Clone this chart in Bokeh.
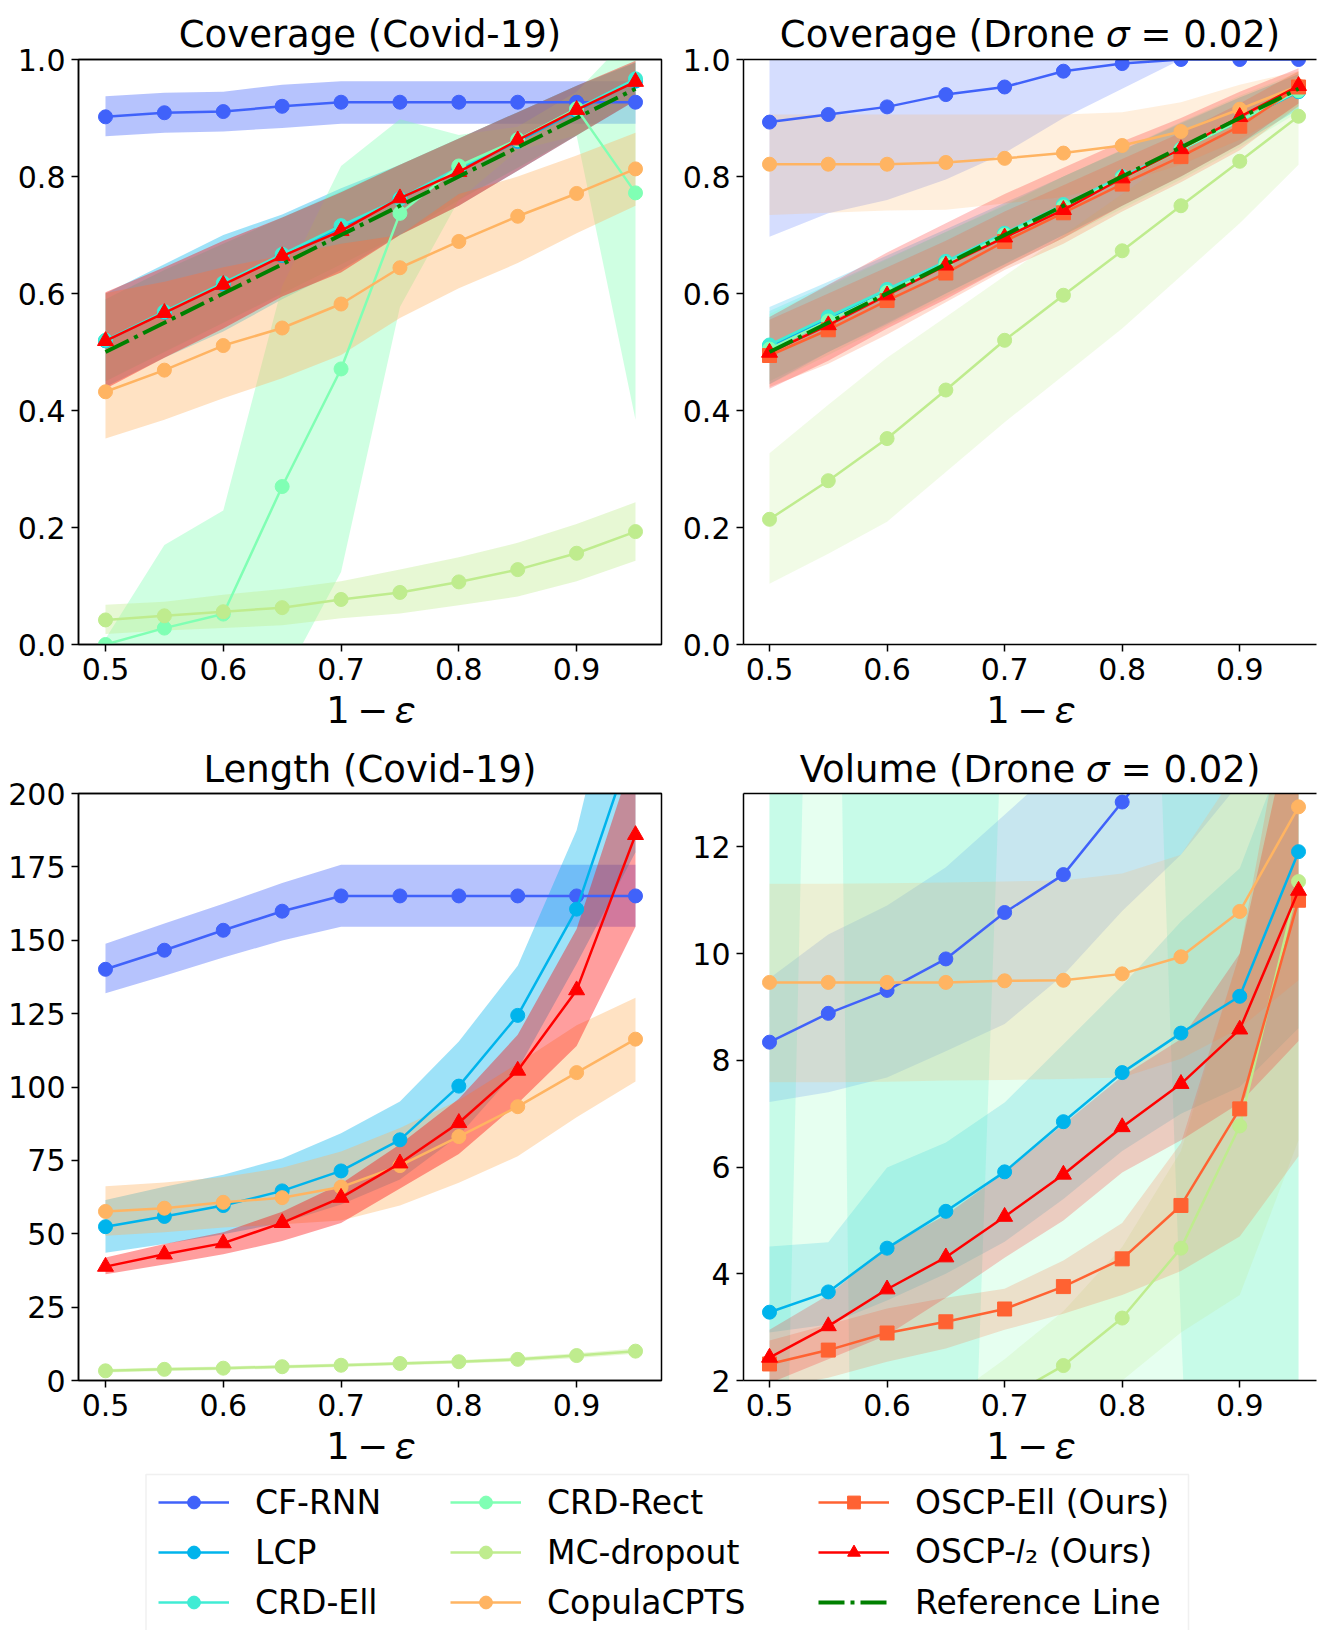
from bokeh.plotting import figure
from bokeh.models import (Range1d, FixedTicker, LinearAxis, NumeralTickFormatter,
                          Legend, LegendItem, BoxAnnotation, ColumnDataSource)
from bokeh.layouts import column, row
from bokeh.embed import file_html
from bokeh.resources import INLINE

# ---------------- data ----------------
EPS = [0.5, 0.55, 0.6, 0.65, 0.7, 0.75, 0.8, 0.85, 0.9, 0.95]
X_TICKS = [0.5, 0.6, 0.7, 0.8, 0.9]
COV_TICKS = [0.0, 0.2, 0.4, 0.6, 0.8, 1.0]
LEN_TICKS = [0, 25, 50, 75, 100, 125, 150, 175, 200]
VOL_TICKS = [2, 4, 6, 8, 10, 12]

METHODS = ["CF-RNN", "LCP", "CRD-Ell", "CRD-Rect", "MC-dropout", "CopulaCPTS",
           "OSCP-Ell (Ours)", "OSCP-\U0001D459\u2082 (Ours)"]
REF_LABEL = "Reference Line"
COLORS = ["#4062fa", "#00b4ec", "#40ecd4", "#80ffb4", "#bfec8e", "#ffb462",
          "#ff6232", "#ff0000"]
MARKERS = ["circle", "circle", "circle", "circle", "circle", "circle", "square", "triangle"]

# Coverage (Covid-19)
cc_cfrnn = [0.902, 0.909, 0.911, 0.920, 0.927, 0.927, 0.927, 0.927, 0.927, 0.927]
cc_cfrnn_lo = [0.869, 0.875, 0.877, 0.883, 0.890, 0.890, 0.890, 0.890, 0.890, 0.890]
cc_cfrnn_hi = [0.937, 0.943, 0.945, 0.957, 0.963, 0.963, 0.963, 0.963, 0.963, 0.963]
cc_lcp = [0.519, 0.568, 0.616, 0.665, 0.713, 0.762, 0.811, 0.860, 0.912, 0.963]
cc_lcp_lo = [0.440, 0.490, 0.535, 0.590, 0.640, 0.700, 0.750, 0.810, 0.870, 0.930]
cc_lcp_hi = [0.600, 0.650, 0.700, 0.735, 0.780, 0.820, 0.865, 0.910, 0.955, 0.995]
cc_crdell = [0.520, 0.569, 0.618, 0.667, 0.716, 0.762, 0.815, 0.863, 0.915, 0.967]
cc_crdell_lo = [0.450, 0.500, 0.550, 0.600, 0.650, 0.700, 0.760, 0.815, 0.870, 0.935]
cc_crdell_hi = [0.590, 0.640, 0.685, 0.730, 0.775, 0.820, 0.865, 0.910, 0.955, 0.995]
cc_crdrect = [0.000, 0.028, 0.052, 0.270, 0.471, 0.737, 0.818, 0.863, 0.916, 0.772]
cc_crdrect_lo = [-0.020, -0.100, -0.100, -0.064, 0.124, 0.577, 0.760, 0.845, 0.870, 0.384]
cc_crdrect_hi = [0.010, 0.170, 0.229, 0.613, 0.818, 0.898, 0.871, 0.885, 0.945, 1.050]
cc_mc = [0.042, 0.049, 0.056, 0.063, 0.077, 0.089, 0.107, 0.128, 0.156, 0.193]
cc_mc_lo = [0.018, 0.024, 0.028, 0.033, 0.045, 0.053, 0.067, 0.082, 0.108, 0.143]
cc_mc_hi = [0.068, 0.073, 0.085, 0.095, 0.108, 0.128, 0.149, 0.174, 0.206, 0.243]
cc_copula = [0.432, 0.469, 0.511, 0.541, 0.582, 0.644, 0.689, 0.732, 0.771, 0.813]
cc_copula_lo = [0.352, 0.384, 0.421, 0.455, 0.495, 0.558, 0.609, 0.652, 0.703, 0.750]
cc_copula_hi = [0.601, 0.620, 0.645, 0.665, 0.685, 0.700, 0.770, 0.800, 0.836, 0.875]
cc_oscpl2 = [0.519, 0.567, 0.615, 0.664, 0.707, 0.763, 0.808, 0.862, 0.914, 0.962]
cc_oscpl2_lo = [0.437, 0.490, 0.540, 0.595, 0.636, 0.700, 0.750, 0.810, 0.870, 0.930]
cc_oscpl2_hi = [0.602, 0.645, 0.690, 0.730, 0.773, 0.820, 0.865, 0.910, 0.955, 0.998]

# Coverage (Drone sigma = 0.02)
cd_cfrnn = [0.893, 0.906, 0.919, 0.940, 0.953, 0.980, 0.993, 1.000, 1.000, 1.000]
cd_cfrnn_lo = [0.697, 0.737, 0.760, 0.795, 0.840, 0.900, 0.950, 1.000, 1.000, 1.000]
cd_cfrnn_hi = [1.000, 1.000, 1.000, 1.000, 1.000, 1.000, 1.000, 1.000, 1.000, 1.000]
cd_lcp = [0.510, 0.558, 0.606, 0.654, 0.702, 0.750, 0.798, 0.846, 0.895, 0.945]
cd_lcp_lo = [0.445, 0.500, 0.548, 0.600, 0.650, 0.700, 0.750, 0.800, 0.855, 0.915]
cd_lcp_hi = [0.577, 0.620, 0.665, 0.710, 0.755, 0.800, 0.845, 0.892, 0.935, 0.975]
cd_crdell = [0.512, 0.560, 0.607, 0.655, 0.703, 0.752, 0.800, 0.847, 0.896, 0.946]
cd_crdell_lo = [0.450, 0.500, 0.550, 0.600, 0.650, 0.700, 0.750, 0.800, 0.855, 0.915]
cd_crdell_hi = [0.570, 0.615, 0.660, 0.705, 0.750, 0.800, 0.845, 0.890, 0.935, 0.975]
cd_crdrect = [0.505, 0.553, 0.602, 0.650, 0.700, 0.748, 0.797, 0.846, 0.895, 0.947]
cd_crdrect_lo = [0.445, 0.495, 0.545, 0.595, 0.645, 0.695, 0.745, 0.795, 0.850, 0.910]
cd_crdrect_hi = [0.565, 0.612, 0.658, 0.705, 0.752, 0.800, 0.846, 0.893, 0.938, 0.978]
cd_mc = [0.214, 0.280, 0.352, 0.435, 0.520, 0.597, 0.673, 0.750, 0.826, 0.903]
cd_mc_lo = [0.104, 0.155, 0.210, 0.295, 0.380, 0.460, 0.540, 0.630, 0.720, 0.820]
cd_mc_hi = [0.327, 0.410, 0.490, 0.560, 0.630, 0.700, 0.770, 0.840, 0.900, 0.960]
cd_copula = [0.821, 0.821, 0.821, 0.824, 0.831, 0.840, 0.853, 0.877, 0.915, 0.955]
cd_copula_lo = [0.734, 0.738, 0.742, 0.743, 0.754, 0.765, 0.789, 0.820, 0.863, 0.920]
cd_copula_hi = [0.906, 0.906, 0.906, 0.906, 0.906, 0.906, 0.910, 0.927, 0.957, 0.980]
cd_oscpell = [0.494, 0.538, 0.588, 0.635, 0.689, 0.738, 0.787, 0.834, 0.886, 0.953]
cd_oscpell_lo = [0.440, 0.480, 0.530, 0.585, 0.640, 0.685, 0.740, 0.790, 0.845, 0.920]
cd_oscpell_hi = [0.555, 0.600, 0.645, 0.690, 0.740, 0.785, 0.830, 0.875, 0.925, 0.980]
cd_oscpl2 = [0.499, 0.546, 0.597, 0.648, 0.696, 0.743, 0.797, 0.847, 0.902, 0.955]
cd_oscpl2_lo = [0.437, 0.485, 0.540, 0.590, 0.645, 0.695, 0.750, 0.800, 0.855, 0.925]
cd_oscpl2_hi = [0.560, 0.615, 0.670, 0.720, 0.770, 0.815, 0.860, 0.900, 0.945, 0.985]

# Length (Covid-19)
lc_cfrnn = [140.1, 146.6, 153.4, 159.9, 165.1, 165.1, 165.1, 165.1, 165.1, 165.1]
lc_cfrnn_lo = [131.9, 137.9, 144.1, 149.9, 154.6, 154.6, 154.6, 154.6, 154.6, 154.6]
lc_cfrnn_hi = [148.8, 155.7, 162.4, 169.5, 175.7, 175.7, 175.7, 175.7, 175.7, 175.7]
lc_lcp = [52.4, 55.9, 59.6, 64.6, 71.4, 82.0, 100.3, 124.4, 160.6, 220.0]
lc_lcp_lo = [43.5, 46.5, 49.8, 53.7, 60.0, 68.5, 83.4, 106.0, 142.0, 180.0]
lc_lcp_hi = [61.5, 66.0, 70.1, 75.6, 84.2, 95.1, 115.5, 141.3, 187.5, 270.0]
lc_mc = [3.3, 3.8, 4.2, 4.7, 5.2, 5.8, 6.4, 7.2, 8.5, 10.0]
lc_mc_lo = [2.7, 3.2, 3.6, 4.1, 4.6, 5.2, 5.8, 6.5, 7.7, 9.1]
lc_mc_hi = [3.9, 4.4, 4.8, 5.3, 5.8, 6.4, 7.0, 7.9, 9.3, 10.9]
lc_copula = [57.6, 58.7, 60.7, 62.3, 65.9, 73.2, 83.1, 93.3, 104.9, 116.3]
lc_copula_lo = [49.3, 50.5, 52.1, 53.2, 54.5, 59.6, 67.4, 76.4, 89.7, 101.9]
lc_copula_hi = [66.2, 67.5, 69.3, 72.5, 78.0, 86.0, 95.5, 108.0, 121.0, 130.4]
lc_oscpl2 = [38.8, 43.0, 46.8, 53.7, 62.3, 74.0, 87.8, 105.6, 133.0, 185.9]
lc_oscpl2_lo = [36.2, 39.5, 43.0, 47.5, 53.7, 65.4, 77.2, 94.4, 114.0, 154.6]
lc_oscpl2_hi = [41.9, 46.5, 50.5, 57.5, 67.0, 80.5, 96.0, 117.8, 153.8, 215.0]

# Volume (Drone sigma = 0.02)
vd_cfrnn = [8.34, 8.88, 9.31, 9.90, 10.77, 11.48, 12.84, 14.2, 15.8, 17.5]
vd_cfrnn_lo = [7.22, 7.40, 7.68, 8.17, 8.68, 9.60, 10.80, 11.85, 13.20, 14.50]
vd_cfrnn_hi = [9.54, 10.36, 10.90, 11.62, 12.60, 13.60, 14.90, 16.50, 18.50, 21.00]
vd_lcp = [3.28, 3.66, 4.48, 5.17, 5.91, 6.85, 7.77, 8.51, 9.20, 11.91]
vd_lcp_lo = [2.90, 3.05, 3.50, 4.00, 4.60, 5.40, 6.30, 7.00, 7.50, 8.60]
vd_lcp_hi = [4.51, 4.59, 5.99, 6.46, 7.21, 8.30, 9.40, 10.60, 11.60, 14.50]
vd_crdell = [25.0, 38.0, 30.0, 28.0, 35.0, 40.0, 45.0, 30.0, 28.0, 30.0]
vd_crdell_lo = [-14.0, 34.0, -55.0, -15.0, 16.0, 30.0, 34.0, 3.0, -22.0, -20.0]
vd_crdell_hi = [64.0, 42.0, 115.0, 71.0, 54.0, 50.0, 56.0, 57.0, 78.0, 80.0]
vd_crdrect = [20.0, 22.0, 25.0, 24.0, 28.0, 30.0, 26.0, 27.0, 32.0, 35.0]
vd_crdrect_lo = [-8.0, -6.0, -9.0, -7.0, -5.0, -10.0, -6.0, -8.0, -12.0, -15.0]
vd_crdrect_hi = [48.0, 50.0, 59.0, 55.0, 61.0, 70.0, 58.0, 62.0, 76.0, 85.0]
vd_mc = [0.60, 0.75, 0.95, 1.20, 1.65, 2.28, 3.17, 4.48, 6.77, 11.35]
vd_mc_lo = [0.30, 0.40, 0.50, 0.70, 1.00, 1.40, 2.00, 2.90, 3.60, 6.50]
vd_mc_hi = [1.00, 1.20, 1.40, 1.60, 2.40, 3.30, 4.50, 6.30, 10.00, 15.00]
vd_copula = [9.46, 9.46, 9.46, 9.46, 9.49, 9.50, 9.62, 9.94, 10.79, 12.75]
vd_copula_lo = [7.59, 7.59, 7.60, 7.62, 7.63, 7.65, 7.68, 8.03, 8.60, 9.50]
vd_copula_hi = [11.31, 11.31, 11.32, 11.33, 11.35, 11.37, 11.50, 11.85, 13.50, 16.00]
vd_oscpell = [2.31, 2.57, 2.89, 3.10, 3.34, 3.76, 4.28, 5.28, 7.09, 11.00]
vd_oscpell_lo = [1.85, 2.05, 2.35, 2.60, 2.95, 3.25, 3.60, 4.05, 4.70, 6.20]
vd_oscpell_hi = [2.75, 3.05, 3.35, 3.55, 3.72, 4.25, 4.95, 6.45, 10.00, 16.00]
vd_oscpl2 = [2.43, 3.02, 3.71, 4.31, 5.07, 5.86, 6.75, 7.56, 8.58, 11.18]
vd_oscpl2_lo = [1.95, 2.40, 2.85, 3.55, 4.30, 5.00, 5.90, 6.50, 7.20, 8.36]
vd_oscpl2_hi = [2.95, 3.60, 4.50, 5.10, 5.90, 6.80, 7.70, 8.40, 10.00, 15.00]

# ---------------- styling ----------------
FONT = "DejaVu Sans"
TICK_PX = "30px"
TITLE_PX = "37px"
LINE_W = 2.5
MARK_SIZE = 14
REF_DASH = "26 6 4 6"
X_LABEL = "1\u2009\u2212\u2009\U0001D700"
SIGMA = "\U0001D70E"


def style_axis(ax, ticks, fmt):
    ax.ticker = FixedTicker(ticks=ticks)
    ax.formatter = NumeralTickFormatter(format=fmt)
    ax.axis_line_color = "black"
    ax.axis_line_width = 1.5
    ax.major_tick_line_color = "black"
    ax.major_tick_line_width = 1.5
    ax.major_tick_out = 7
    ax.major_tick_in = 0
    ax.minor_tick_line_color = None
    ax.major_label_text_font = FONT
    ax.major_label_text_font_size = TICK_PX
    ax.major_label_text_color = "black"
    ax.major_label_standoff = 6


def make_panel(title, y_range, y_ticks, y_fmt, series, with_ref, right, top_row, alpha):
    fw = 573 if right else 583
    fh = 585 if top_row else 587
    xr = (0.47788, 0.96529) if right else (0.47708, 0.97207)
    p = figure(frame_width=fw, frame_height=fh,
               x_range=Range1d(*xr), y_range=Range1d(*y_range),
               toolbar_location=None, output_backend="svg",
               min_border_left=70 if right else 78,
               min_border_right=4 if right else 12,
               min_border_top=59 if top_row else 53,
               min_border_bottom=96 if top_row else 90,
               background_fill_color="white", border_fill_color="white")
    p.xgrid.visible = False
    p.ygrid.visible = False
    if right:
        p.outline_line_color = None
    else:
        p.outline_line_color = "black"
        p.outline_line_width = 1.5
        p.outline_line_alpha = 1.0
    style_axis(p.xaxis[0], X_TICKS, "0.0")
    style_axis(p.yaxis[0], y_ticks, y_fmt)
    p.xaxis.axis_label = X_LABEL
    p.xaxis.axis_label_text_font = FONT
    p.xaxis.axis_label_text_font_size = TITLE_PX
    p.xaxis.axis_label_text_font_style = "normal"
    p.xaxis.axis_label_text_color = "black"
    p.xaxis.axis_label_standoff = 6
    top = LinearAxis(ticker=FixedTicker(ticks=[]), axis_line_color="black",
                     axis_line_width=1.5, major_tick_line_color=None,
                     minor_tick_line_color=None, major_label_standoff=0,
                     major_tick_out=0)
    p.add_layout(top, "above")
    p.title.text = title
    p.title.align = "center"
    p.title.text_font = FONT
    p.title.text_font_size = TITLE_PX
    p.title.text_font_style = "normal"
    p.title.text_color = "black"
    p.title.standoff = 8 if top_row else 6

    # bands first
    for idx, mean, lo, hi in series:
        p.varea(x=EPS, y1=lo, y2=hi, fill_color=COLORS[idx], fill_alpha=alpha)
    # then lines and markers
    for idx, mean, lo, hi in series:
        p.line(EPS, mean, line_color=COLORS[idx], line_width=LINE_W)
        sz = MARK_SIZE + 2 if MARKERS[idx] == "triangle" else MARK_SIZE
        p.scatter(EPS, mean, marker=MARKERS[idx], size=sz,
                  fill_color=COLORS[idx], line_color=COLORS[idx])
    if with_ref:
        p.line(EPS, EPS, line_color="#008000", line_width=4, line_dash=REF_DASH)
    return p


p_cc = make_panel("Coverage (Covid-19)", (0.0, 1.0), COV_TICKS, "0.0", [
    (0, cc_cfrnn, cc_cfrnn_lo, cc_cfrnn_hi),
    (1, cc_lcp, cc_lcp_lo, cc_lcp_hi),
    (2, cc_crdell, cc_crdell_lo, cc_crdell_hi),
    (3, cc_crdrect, cc_crdrect_lo, cc_crdrect_hi),
    (4, cc_mc, cc_mc_lo, cc_mc_hi),
    (5, cc_copula, cc_copula_lo, cc_copula_hi),
    (7, cc_oscpl2, cc_oscpl2_lo, cc_oscpl2_hi),
], True, False, True, 0.38)

p_cd = make_panel("Coverage (Drone " + SIGMA + " = 0.02)", (0.0, 1.0), COV_TICKS, "0.0", [
    (0, cd_cfrnn, cd_cfrnn_lo, cd_cfrnn_hi),
    (1, cd_lcp, cd_lcp_lo, cd_lcp_hi),
    (2, cd_crdell, cd_crdell_lo, cd_crdell_hi),
    (3, cd_crdrect, cd_crdrect_lo, cd_crdrect_hi),
    (4, cd_mc, cd_mc_lo, cd_mc_hi),
    (5, cd_copula, cd_copula_lo, cd_copula_hi),
    (6, cd_oscpell, cd_oscpell_lo, cd_oscpell_hi),
    (7, cd_oscpl2, cd_oscpl2_lo, cd_oscpl2_hi),
], True, True, True, 0.22)

p_lc = make_panel("Length (Covid-19)", (0, 200), LEN_TICKS, "0", [
    (0, lc_cfrnn, lc_cfrnn_lo, lc_cfrnn_hi),
    (1, lc_lcp, lc_lcp_lo, lc_lcp_hi),
    (4, lc_mc, lc_mc_lo, lc_mc_hi),
    (5, lc_copula, lc_copula_lo, lc_copula_hi),
    (7, lc_oscpl2, lc_oscpl2_lo, lc_oscpl2_hi),
], False, False, False, 0.38)

p_vd = make_panel("Volume (Drone " + SIGMA + " = 0.02)", (2, 13), VOL_TICKS, "0", [
    (0, vd_cfrnn, vd_cfrnn_lo, vd_cfrnn_hi),
    (1, vd_lcp, vd_lcp_lo, vd_lcp_hi),
    (2, vd_crdell, vd_crdell_lo, vd_crdell_hi),
    (3, vd_crdrect, vd_crdrect_lo, vd_crdrect_hi),
    (4, vd_mc, vd_mc_lo, vd_mc_hi),
    (5, vd_copula, vd_copula_lo, vd_copula_hi),
    (6, vd_oscpell, vd_oscpell_lo, vd_oscpell_hi),
    (7, vd_oscpl2, vd_oscpl2_lo, vd_oscpl2_hi),
], False, True, False, 0.2)

# ---------------- legend panel ----------------
LW, LH = 1320, 160
lf = figure(width=LW, height=LH, x_range=Range1d(0, LW), y_range=Range1d(0, LH),
            x_axis_type=None, y_axis_type=None, toolbar_location=None,
            output_backend="svg", min_border=0, outline_line_color=None)
box = BoxAnnotation(left=145.5, right=1188, bottom=-40, top=156,
                    fill_color="white", fill_alpha=1.0,
                    line_color="#cccccc", line_width=1.5)
lf.add_layout(box)

nan = float("nan")
dummy = ColumnDataSource(data=dict(x=[nan], y=[nan]))
items = []
for i, name in enumerate(METHODS):
    rl = lf.line("x", "y", source=dummy, line_color=COLORS[i], line_width=2.5)
    rs = lf.scatter("x", "y", source=dummy, marker=MARKERS[i], size=12,
                    fill_color=COLORS[i], line_color=COLORS[i])
    items.append(LegendItem(label=name, renderers=[rl, rs]))
rr = lf.line("x", "y", source=dummy, line_color="#008000", line_width=4,
             line_dash=REF_DASH)
items.append(LegendItem(label=REF_LABEL, renderers=[rr]))

for col, x0 in enumerate([158, 450, 818]):
    leg = Legend(items=items[3 * col:3 * col + 3], location=(x0, 8),
                 orientation="vertical", glyph_width=71, glyph_height=32,
                 label_height=40, label_standoff=26, spacing=10, padding=0,
                 margin=0, background_fill_alpha=0, border_line_color=None,
                 label_text_font=FONT, label_text_font_size="33px",
                 label_text_color="black")
    lf.add_layout(leg)

layout = column(row(p_cc, p_cd), row(p_lc, p_vd), lf)

with open("out.html", "w") as f:
    f.write(file_html(layout, INLINE))
